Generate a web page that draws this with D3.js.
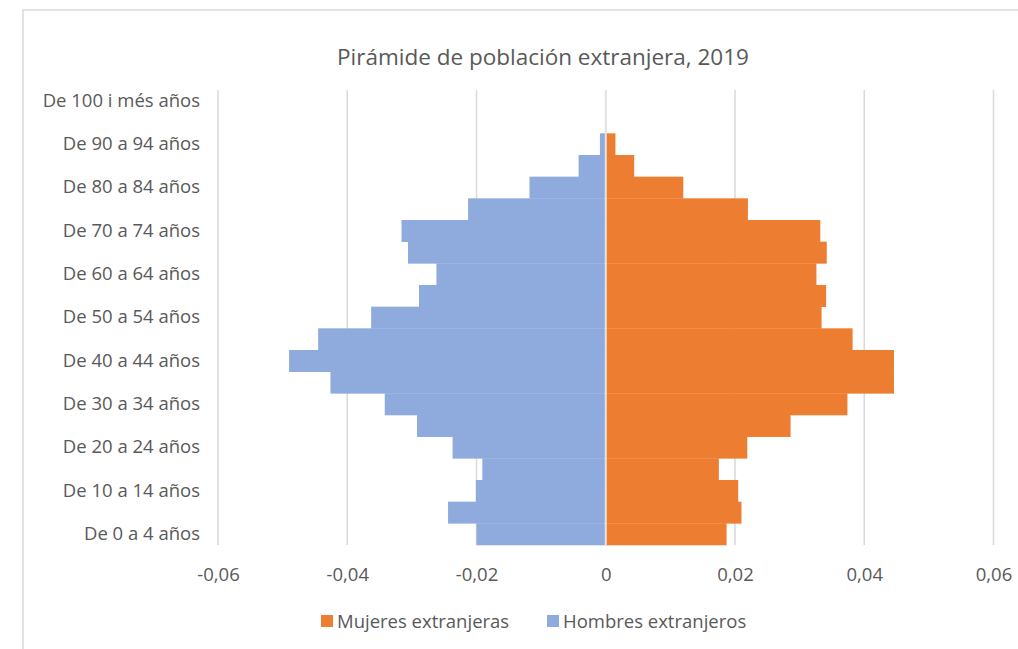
<!DOCTYPE html>
<html lang="es">
<head>
  <meta charset="UTF-8">
  <title>Pirámide de población extranjera, 2019</title>
  <script src="https://d3js.org/d3.v7.min.js"></script>
  <style>
    body { margin: 0; background: #fff; }
    text { font-family: "Open Sans", sans-serif; fill: #595959; }
  </style>
</head>
<body>
<div id="chart"></div>
<script>
// age groups, bottom to top
const ageGroups = [
  "De 0 a 4 años", "De 5 a 9 años", "De 10 a 14 años", "De 15 a 19 años",
  "De 20 a 24 años", "De 25 a 29 años", "De 30 a 34 años", "De 35 a 39 años",
  "De 40 a 44 años", "De 45 a 49 años", "De 50 a 54 años", "De 55 a 59 años",
  "De 60 a 64 años", "De 65 a 69 años", "De 70 a 74 años", "De 75 a 79 años",
  "De 80 a 84 años", "De 85 a 89 años", "De 90 a 94 años", "De 95 a 99 años",
  "De 100 i més años"
];

// share of total
const mujeres = [
  0.0187, 0.0210, 0.0205, 0.0175, 0.0219, 0.0286, 0.0374, 0.0446,
  0.0446, 0.0382, 0.0334, 0.0341, 0.0326, 0.0342, 0.0332, 0.0220,
  0.0120, 0.0044, 0.0015, 0, 0
];
const hombres = [
  -0.0200, -0.0244, -0.0201, -0.0191, -0.0237, -0.0292, -0.0342, -0.0426,
  -0.0490, -0.0445, -0.0363, -0.0289, -0.0262, -0.0306, -0.0316, -0.0213,
  -0.0118, -0.0042, -0.0009, 0, 0
];

const xTicks = [-0.06, -0.04, -0.02, 0, 0.02, 0.04, 0.06];
const seriesNames = ["Mujeres extranjeras", "Hombres extranjeros"];
const colors = ["#ED7D31", "#8FAADC"];

const W = 1018, H = 649;
const svg = d3.select("#chart").append("svg")
  .attr("width", W)
  .attr("height", H);

// chart frame (clipped by the window on right and bottom)
svg.append("rect")
  .attr("x", 23).attr("y", 10)
  .attr("width", 1040).attr("height", 700)
  .attr("fill", "#fff")
  .attr("stroke", "#d9d9d9")
  .attr("stroke-width", 1.5);

const x = d3.scaleLinear().domain([-0.06, 0.06]).range([218, 993.5]);
const y = d3.scaleBand().domain(ageGroups.slice().reverse()).range([90, 545]).padding(0);

// gridlines
svg.append("g")
  .selectAll("line")
  .data(xTicks)
  .join("line")
  .attr("x1", d => x(d)).attr("x2", d => x(d))
  .attr("y1", 90).attr("y2", 545)
  .attr("stroke", "#d9d9d9")
  .attr("stroke-width", 1.5);

// bars
const series = [mujeres, hombres];
series.forEach((vals, i) => {
  svg.append("g")
    .selectAll("rect")
    .data(vals.map((v, j) => ({ age: ageGroups[j], v: v })))
    .join("rect")
    .attr("x", d => x(Math.min(0, d.v)))
    .attr("width", d => Math.abs(x(d.v) - x(0)))
    .attr("y", d => y(d.age))
    .attr("height", y.bandwidth() + 0.3)
    .attr("fill", colors[i]);
});

// vertical axis line at zero
svg.append("line")
  .attr("x1", x(0)).attr("x2", x(0))
  .attr("y1", 90).attr("y2", 545)
  .attr("stroke", "#e4e4e4")
  .attr("stroke-width", 2);

// y axis labels (every other category)
const yAxis = svg.append("g")
  .attr("transform", "translate(200,0)")
  .call(d3.axisLeft(y).tickValues(ageGroups.filter((d, i) => i % 2 === 0)).tickSize(0).tickPadding(0));
yAxis.select(".domain").remove();
yAxis.selectAll("text")
  .style("font-size", "18.5px")
  .style("font-family", "'Open Sans', sans-serif")
  .attr("fill", "#595959");

// x axis labels
const xAxis = svg.append("g")
  .attr("transform", "translate(0,565)")
  .call(d3.axisBottom(x).tickValues(xTicks).tickSize(0)
    .tickFormat(d => d === 0 ? "0" : d3.format(".2f")(d).replace(".", ",").replace("−", "-")));
xAxis.select(".domain").remove();
xAxis.selectAll("text")
  .style("font-size", "18.5px")
  .style("font-family", "'Open Sans', sans-serif")
  .attr("fill", "#595959");

// title
svg.append("text")
  .attr("x", 543).attr("y", 65)
  .attr("text-anchor", "middle")
  .style("font-size", "22.5px")
  .text("Pirámide de población extranjera, 2019");

// legend
const legendPos = [321, 547];
seriesNames.forEach((name, i) => {
  svg.append("rect")
    .attr("x", legendPos[i]).attr("y", 615)
    .attr("width", 12).attr("height", 12)
    .attr("fill", colors[i]);
  svg.append("text")
    .attr("x", legendPos[i] + 16).attr("y", 628)
    .style("font-size", "18.5px")
    .text(name);
});
</script>
</body>
</html>
